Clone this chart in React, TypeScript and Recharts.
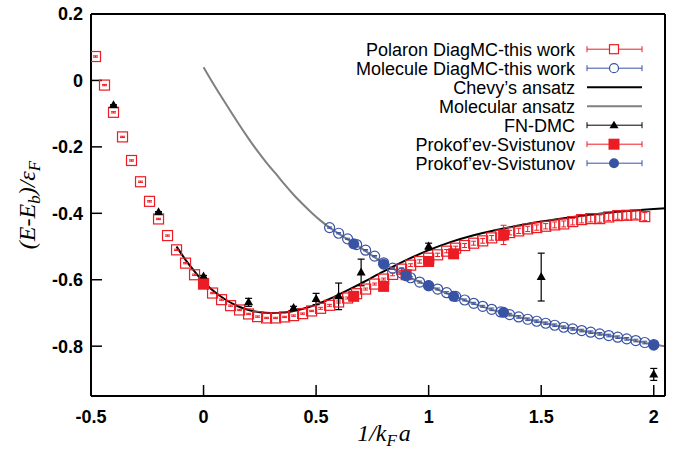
import { ComposedChart, Line, Scatter, XAxis, YAxis, ErrorBar, Legend, Label } from 'recharts';

const RED = '#ec1c24';
const BLUE = '#3953a4';
const GRAY = '#808080';
const SANS = "'Liberation Sans', Arial, Helvetica, sans-serif";
const SERIF = "'Liberation Serif', 'Times New Roman', serif";

const xTicks = [-0.5, 0, 0.5, 1, 1.5, 2];
const yTicks = [-0.8, -0.6, -0.4, -0.2, 0, 0.2];

// Polaron DiagMC (open red squares)
const polaronX = [
  -0.48, -0.44, -0.4, -0.36, -0.32, -0.28, -0.24, -0.2, -0.16, -0.12, -0.08, -0.04,
  0, 0.04, 0.08, 0.12, 0.16, 0.2, 0.24, 0.28, 0.32, 0.36, 0.4, 0.44, 0.48, 0.52, 0.56,
  0.6, 0.64, 0.68, 0.72, 0.76, 0.8, 0.84, 0.88, 0.92, 0.96, 1.0, 1.04, 1.08, 1.12, 1.16,
  1.2, 1.24, 1.28, 1.32, 1.36, 1.4, 1.44, 1.48, 1.52, 1.56, 1.6, 1.64, 1.68, 1.72, 1.76,
  1.8, 1.84, 1.88, 1.92, 1.96,
];
const polaronY = [
  0.072, -0.014, -0.096, -0.17, -0.241, -0.305, -0.364, -0.417, -0.467, -0.51, -0.55, -0.585,
  -0.612, -0.64, -0.66, -0.678, -0.691, -0.703, -0.711, -0.715, -0.715, -0.712, -0.708, -0.702, -0.694, -0.686, -0.677,
  -0.667, -0.655, -0.642, -0.628, -0.613, -0.598, -0.584, -0.568, -0.556, -0.545, -0.535, -0.525, -0.514, -0.505, -0.497,
  -0.49, -0.483, -0.474, -0.466, -0.458, -0.453, -0.447, -0.443, -0.439, -0.435, -0.432, -0.425, -0.419, -0.416, -0.416,
  -0.411, -0.407, -0.406, -0.405, -0.41,
];
const polaronErr = [
  0.002, 0.002, 0.002, 0.002, 0.002, 0.002, 0.002, 0.002, 0.002, 0.002, 0.002, 0.002,
  0.002, 0.002, 0.002, 0.002, 0.002, 0.002, 0.002, 0.002, 0.002, 0.002, 0.002, 0.002, 0.002, 0.003, 0.003,
  0.003, 0.003, 0.003, 0.003, 0.003, 0.003, 0.004, 0.004, 0.004, 0.005, 0.005, 0.005, 0.005, 0.006, 0.006,
  0.006, 0.007, 0.007, 0.007, 0.007, 0.008, 0.008, 0.008, 0.008, 0.009, 0.009, 0.01, 0.01, 0.01, 0.011,
  0.011, 0.011, 0.012, 0.012, 0.012,
];

// Molecule DiagMC (open blue circles)
const moleculeX = [
  0.56, 0.6, 0.64, 0.68, 0.72, 0.76, 0.8, 0.84, 0.88, 0.92, 0.96, 1.0, 1.04, 1.08, 1.12, 1.16,
  1.2, 1.24, 1.28, 1.32, 1.36, 1.4, 1.44, 1.48, 1.52, 1.56, 1.6, 1.64, 1.68, 1.72, 1.76,
  1.8, 1.84, 1.88, 1.92, 1.96, 2.0,
];
const moleculeY = [
  -0.443, -0.46, -0.477, -0.494, -0.511, -0.529, -0.549, -0.565, -0.58, -0.594, -0.607, -0.618, -0.628, -0.639, -0.65, -0.661,
  -0.671, -0.68, -0.689, -0.697, -0.705, -0.712, -0.719, -0.725, -0.731, -0.737, -0.743, -0.748, -0.753, -0.758, -0.763,
  -0.768, -0.773, -0.778, -0.783, -0.789, -0.795,
];
const moleculeErr = [
  0.002, 0.002, 0.002, 0.002, 0.002, 0.002, 0.002, 0.002, 0.003, 0.003, 0.003, 0.003, 0.003, 0.003, 0.003, 0.003,
  0.003, 0.003, 0.004, 0.004, 0.004, 0.004, 0.004, 0.004, 0.004, 0.004, 0.004, 0.004, 0.004, 0.004, 0.004,
  0.004, 0.004, 0.004, 0.004, 0.004, 0.004,
];

// Chevy's ansatz
const chevyX = [
  -0.12, -0.08, -0.04, 0, 0.05, 0.1, 0.15, 0.2, 0.25, 0.3, 0.35, 0.4, 0.45, 0.5, 0.55, 0.6,
  0.7, 0.8, 0.9, 1.0, 1.1, 1.2, 1.3, 1.4, 1.5, 1.6, 1.7, 1.8, 1.9, 2.0, 2.05,
];
const chevyY = [
  -0.5, -0.54, -0.575, -0.607, -0.637, -0.661, -0.679, -0.691, -0.698, -0.7, -0.699, -0.694, -0.686, -0.675, -0.661, -0.645,
  -0.611, -0.575, -0.541, -0.511, -0.486, -0.466, -0.45, -0.437, -0.425, -0.415, -0.406, -0.398, -0.392, -0.387, -0.385,
];

// Molecular ansatz
const molAnsatzX = [
  0, 0.04, 0.08, 0.12, 0.16, 0.2, 0.24, 0.28, 0.32, 0.36, 0.4, 0.44, 0.48, 0.52, 0.56, 0.6,
  0.7, 0.8, 0.9, 1.0, 1.1, 1.2, 1.3, 1.4, 1.5, 1.6, 1.7, 1.8, 1.9, 2.0, 2.05,
];
const molAnsatzY = [
  0.04, -0.006, -0.05, -0.093, -0.135, -0.175, -0.213, -0.248, -0.28, -0.313, -0.344, -0.372, -0.398, -0.422, -0.443, -0.461,
  -0.505, -0.55, -0.588, -0.618, -0.646, -0.672, -0.694, -0.712, -0.728, -0.743, -0.756, -0.768, -0.781, -0.795, -0.8,
];

// FN-DMC
const dmcX = [-0.4, -0.2, 0, 0.2, 0.4, 0.5, 0.6, 0.7, 1.0, 1.5, 2.0];
const dmcY = [-0.075, -0.397, -0.59, -0.668, -0.685, -0.658, -0.65, -0.578, -0.5, -0.592, -0.885];
const dmcErr = [0.002, 0.002, 0.003, 0.012, 0.005, 0.017, 0.04, 0.04, 0.01, 0.072, 0.018];

// Prokof'ev-Svistunov (polaron, red filled)
const psRedX = [0, 0.667, 0.8, 0.9, 1.0, 1.111, 1.333];
const psRedY = [-0.613, -0.65, -0.62, -0.585, -0.545, -0.522, -0.465];
const psRedErr = [0.003, 0.003, 0.003, 0.003, 0.003, 0.003, 0.029];

// Prokof'ev-Svistunov (molecule, blue filled)
const psBlueX = [0.667, 0.8, 0.9, 1.0, 1.111, 1.333, 2.0];
const psBlueY = [-0.492, -0.553, -0.588, -0.618, -0.65, -0.698, -0.797];

const zip = (xs: number[], ys: number[], es?: number[]) =>
  xs.map((x, i) => ({ x, y: ys[i], e: es ? es[i] : 0 }));

const polaronData = zip(polaronX, polaronY, polaronErr);
const moleculeData = zip(moleculeX, moleculeY, moleculeErr);
const chevyData = zip(chevyX, chevyY);
const molAnsatzData = zip(molAnsatzX, molAnsatzY);
const dmcData = zip(dmcX, dmcY, dmcErr);
const psRedData = zip(psRedX, psRedY, psRedErr);
const psBlueData = zip(psBlueX, psBlueY);

const OpenSquare = (p: any) =>
  p.cx == null ? null : (
    <rect x={p.cx - 5} y={p.cy - 5} width={10} height={10} fill="none" stroke={RED} strokeWidth={1.2} />
  );
const OpenCircle = (p: any) =>
  p.cx == null ? null : <circle cx={p.cx} cy={p.cy} r={5} fill="none" stroke={BLUE} strokeWidth={1.2} />;
const Triangle = (p: any) =>
  p.cx == null ? null : (
    <polygon points={`${p.cx},${p.cy - 5} ${p.cx - 4.5},${p.cy + 3} ${p.cx + 4.5},${p.cy + 3}`} fill="#000" />
  );
const FilledSquare = (p: any) =>
  p.cx == null ? null : <rect x={p.cx - 5.5} y={p.cy - 5.5} width={11} height={11} fill={RED} />;
const FilledCircle = (p: any) =>
  p.cx == null ? null : <circle cx={p.cx} cy={p.cy} r={5.5} fill={BLUE} />;

const legendRows = [
  { label: 'Polaron DiagMC-this work', color: RED, mark: 'openSquare', caps: true },
  { label: 'Molecule DiagMC-this work', color: BLUE, mark: 'openCircle', caps: true },
  { label: 'Chevy’s ansatz', color: '#000', mark: 'none', caps: false },
  { label: 'Molecular ansatz', color: GRAY, mark: 'none', caps: false },
  { label: 'FN-DMC', color: '#000', mark: 'triangle', caps: true },
  { label: 'Prokof’ev-Svistunov', color: RED, mark: 'filledSquare', caps: true },
  { label: 'Prokof’ev-Svistunov', color: BLUE, mark: 'filledCircle', caps: true },
];

const LegendBox = () => {
  const textEnd = 317;
  const x1 = 329;
  const x2 = 384;
  const mx = 356;
  return (
    <svg width={400} height={150} style={{ display: 'block' }}>
      {legendRows.map((r, i) => {
        const y = 11.2 + i * 19;
        const thick = r.caps ? 1 : 2;
        return (
          <g key={i}>
            <text x={textEnd} y={y + 6.4} textAnchor="end" fontFamily={SANS} fontSize={18} fill="#000">
              {r.label}
            </text>
            <line x1={x1} y1={y} x2={x2} y2={y} stroke={r.color} strokeWidth={thick} />
            {r.caps && <line x1={x1} y1={y - 3} x2={x1} y2={y + 3} stroke={r.color} strokeWidth={1} />}
            {r.caps && <line x1={x2} y1={y - 3} x2={x2} y2={y + 3} stroke={r.color} strokeWidth={1} />}
            {r.mark === 'openSquare' && <rect x={mx - 4.5} y={y - 4.5} width={9} height={9} fill="#fff" stroke={r.color} strokeWidth={1.2} />}
            {r.mark === 'openCircle' && <circle cx={mx} cy={y} r={4.5} fill="#fff" stroke={r.color} strokeWidth={1.2} />}
            {r.mark === 'triangle' && <polygon points={`${mx},${y - 4.5} ${mx - 4.5},${y + 3} ${mx + 4.5},${y + 3}`} fill="#000" />}
            {r.mark === 'filledSquare' && <rect x={mx - 5.5} y={y - 5.5} width={11} height={11} fill={r.color} />}
            {r.mark === 'filledCircle' && <circle cx={mx} cy={y} r={5} fill={r.color} />}
          </g>
        );
      })}
    </svg>
  );
};

const YTitle = () => (
  <text
    transform="translate(35,205) rotate(-90)"
    textAnchor="middle"
    fontFamily={SERIF}
    fontStyle="italic"
    fontSize={24}
    fill="#000"
  >
    (E-E<tspan dy={5} fontSize={17}>b</tspan>
    <tspan dy={-5}>)/ε</tspan>
    <tspan dy={5} fontSize={17}>F</tspan>
  </text>
);

const XTitle = () => (
  <text x={384} y={441} textAnchor="middle" fontFamily={SERIF} fontStyle="italic" fontSize={24} fill="#000">
    1/k<tspan dy={5} fontSize={17}>F</tspan>
    <tspan dy={-5} dx={2}>a</tspan>
  </text>
);

const axisLine = { stroke: '#000', strokeWidth: 2 };
const tickLine = { stroke: '#000', strokeWidth: 1.5 };
const tickFont = { fill: '#000', fontSize: 18, fontWeight: 'bold', fontFamily: SANS };

export default function App() {
  // sit on the page corner so the top tick label is not clipped by the body margin
  return (
    <div style={{ position: 'absolute', left: 0, top: 0, width: 676, height: 457 }}>
      <ComposedChart width={676} height={457} margin={{ top: 13, right: 10, bottom: 0, left: 0 }}>
        <XAxis
          type="number"
          dataKey="x"
          domain={[-0.5, 2.05]}
          ticks={xTicks}
          interval={0}
          allowDataOverflow
          height={61}
          tickSize={-11}
          tickMargin={25}
          axisLine={axisLine}
          tickLine={tickLine}
          tick={tickFont}
        >
          <Label content={<XTitle />} />
        </XAxis>
        <XAxis
          xAxisId="top"
          orientation="top"
          type="number"
          domain={[-0.5, 2.05]}
          ticks={xTicks}
          interval={0}
          allowDataOverflow
          height={1}
          tickSize={-11}
          axisLine={axisLine}
          tickLine={tickLine}
          tick={false}
        />
        <YAxis
          type="number"
          dataKey="y"
          domain={[-0.95, 0.2]}
          ticks={yTicks}
          interval={0}
          allowDataOverflow
          width={91}
          tickSize={-11}
          tickMargin={19}
          axisLine={axisLine}
          tickLine={tickLine}
          tick={tickFont}
        >
          <Label content={<YTitle />} />
        </YAxis>
        <YAxis
          yAxisId="right"
          orientation="right"
          type="number"
          domain={[-0.95, 0.2]}
          ticks={yTicks}
          interval={0}
          allowDataOverflow
          width={1}
          tickSize={-11}
          axisLine={axisLine}
          tickLine={tickLine}
          tick={false}
        />
        <Legend
          layout="vertical"
          align="center"
          verticalAlign="middle"
          content={<LegendBox />}
          wrapperStyle={{ top: 38, left: 258, width: 400, height: 150 }}
        />
        <Line
          data={chevyData}
          dataKey="y"
          type="monotone"
          stroke="#000"
          strokeWidth={2}
          dot={false}
          activeDot={false}
          isAnimationActive={false}
        />
        <Line
          data={molAnsatzData}
          dataKey="y"
          type="monotone"
          stroke={GRAY}
          strokeWidth={2}
          dot={false}
          activeDot={false}
          isAnimationActive={false}
        />
        <Scatter data={polaronData} dataKey="y" shape={OpenSquare} isAnimationActive={false}>
          <ErrorBar dataKey="e" direction="y" width={2.5} stroke={RED} strokeWidth={1} isAnimationActive={false} />
        </Scatter>
        <Scatter data={moleculeData} dataKey="y" shape={OpenCircle} isAnimationActive={false}>
          <ErrorBar dataKey="e" direction="y" width={2.5} stroke={BLUE} strokeWidth={1} isAnimationActive={false} />
        </Scatter>
        <Scatter data={dmcData} dataKey="y" shape={Triangle} isAnimationActive={false}>
          <ErrorBar dataKey="e" direction="y" width={3.5} stroke="#000" strokeWidth={1.2} isAnimationActive={false} />
        </Scatter>
        <Scatter data={psRedData} dataKey="y" shape={FilledSquare} isAnimationActive={false}>
          <ErrorBar dataKey="e" direction="y" width={3} stroke={RED} strokeWidth={1} isAnimationActive={false} />
        </Scatter>
        <Scatter data={psBlueData} dataKey="y" shape={FilledCircle} isAnimationActive={false} />
      </ComposedChart>
    </div>
  );
}
